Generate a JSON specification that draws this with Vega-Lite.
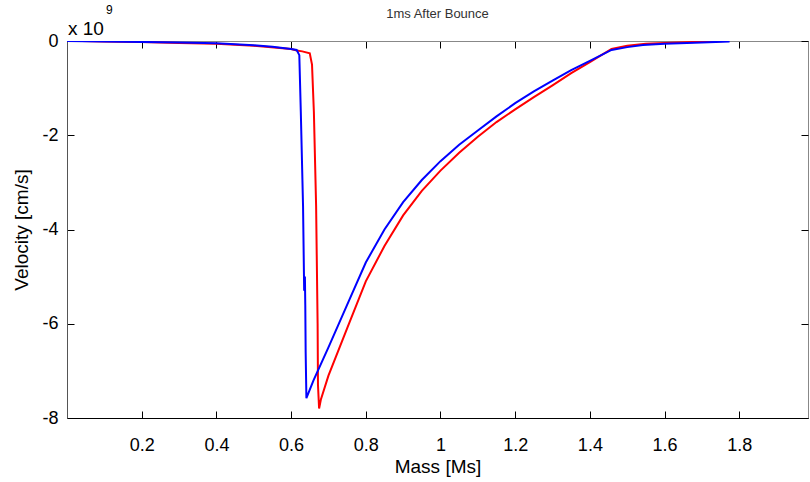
{
  "$schema": "https://vega.github.io/schema/vega-lite/v6.json",
  "autosize": {"type": "none"},
  "width": 741,
  "height": 377,
  "padding": {"left": 67, "top": 41, "right": 2, "bottom": 64},
  "background": "white",
  "title": {"text": "1ms After Bounce", "font": "Liberation Sans", "fontSize": 13, "fontWeight": "normal", "color": "#333", "offset": 0, "dy": 17},
  "config": {
    "view": {"stroke": "#888", "strokeWidth": 1},
    "axis": {"labelFont": "Liberation Sans", "titleFont": "Liberation Sans", "labelFontSize": 18, "titleFontSize": 19, "titleFontWeight": "normal", "labelColor": "black", "titleColor": "black", "tickColor": "black", "grid": false, "tickSize": -7, "labelPadding": 16}
  },
  "datasets": {
    "curves": [
      {"m": 0.04, "v": 0.0, "s": "red"},
      {"m": 0.1, "v": -0.01, "s": "red"},
      {"m": 0.2, "v": -0.02, "s": "red"},
      {"m": 0.3, "v": -0.04, "s": "red"},
      {"m": 0.4, "v": -0.06, "s": "red"},
      {"m": 0.5, "v": -0.1, "s": "red"},
      {"m": 0.6, "v": -0.17, "s": "red"},
      {"m": 0.615, "v": -0.2, "s": "red"},
      {"m": 0.63, "v": -0.22, "s": "red"},
      {"m": 0.65, "v": -0.26, "s": "red"},
      {"m": 0.656, "v": -0.5, "s": "red"},
      {"m": 0.661, "v": -1.5, "s": "red"},
      {"m": 0.667, "v": -3.5, "s": "red"},
      {"m": 0.671, "v": -6.0, "s": "red"},
      {"m": 0.672, "v": -7.3, "s": "red"},
      {"m": 0.675, "v": -7.8, "s": "red"},
      {"m": 0.68, "v": -7.6, "s": "red"},
      {"m": 0.7, "v": -7.1, "s": "red"},
      {"m": 0.75, "v": -6.1, "s": "red"},
      {"m": 0.8, "v": -5.1, "s": "red"},
      {"m": 0.85, "v": -4.35, "s": "red"},
      {"m": 0.9, "v": -3.7, "s": "red"},
      {"m": 0.95, "v": -3.18, "s": "red"},
      {"m": 1.0, "v": -2.75, "s": "red"},
      {"m": 1.05, "v": -2.37, "s": "red"},
      {"m": 1.1, "v": -2.03, "s": "red"},
      {"m": 1.15, "v": -1.72, "s": "red"},
      {"m": 1.2, "v": -1.45, "s": "red"},
      {"m": 1.25, "v": -1.19, "s": "red"},
      {"m": 1.3, "v": -0.94, "s": "red"},
      {"m": 1.35, "v": -0.68, "s": "red"},
      {"m": 1.4, "v": -0.45, "s": "red"},
      {"m": 1.458, "v": -0.17, "s": "red"},
      {"m": 1.5, "v": -0.1, "s": "red"},
      {"m": 1.55, "v": -0.06, "s": "red"},
      {"m": 1.6, "v": -0.04, "s": "red"},
      {"m": 1.7, "v": -0.015, "s": "red"},
      {"m": 1.76, "v": 0.0, "s": "red"},
      {"m": 0.0, "v": 0.0, "s": "blue"},
      {"m": 0.1, "v": -0.01, "s": "blue"},
      {"m": 0.2, "v": -0.02, "s": "blue"},
      {"m": 0.3, "v": -0.03, "s": "blue"},
      {"m": 0.4, "v": -0.05, "s": "blue"},
      {"m": 0.5, "v": -0.09, "s": "blue"},
      {"m": 0.55, "v": -0.12, "s": "blue"},
      {"m": 0.6, "v": -0.17, "s": "blue"},
      {"m": 0.615, "v": -0.19, "s": "blue"},
      {"m": 0.622, "v": -0.3, "s": "blue"},
      {"m": 0.626, "v": -1.5, "s": "blue"},
      {"m": 0.632, "v": -3.5, "s": "blue"},
      {"m": 0.635, "v": -5.3, "s": "blue"},
      {"m": 0.637, "v": -5.0, "s": "blue"},
      {"m": 0.638, "v": -5.6, "s": "blue"},
      {"m": 0.639, "v": -6.6, "s": "blue"},
      {"m": 0.641, "v": -7.58, "s": "blue"},
      {"m": 0.66, "v": -7.2, "s": "blue"},
      {"m": 0.7, "v": -6.5, "s": "blue"},
      {"m": 0.75, "v": -5.6, "s": "blue"},
      {"m": 0.8, "v": -4.7, "s": "blue"},
      {"m": 0.85, "v": -4.0, "s": "blue"},
      {"m": 0.9, "v": -3.42, "s": "blue"},
      {"m": 0.95, "v": -2.95, "s": "blue"},
      {"m": 1.0, "v": -2.55, "s": "blue"},
      {"m": 1.05, "v": -2.2, "s": "blue"},
      {"m": 1.1, "v": -1.9, "s": "blue"},
      {"m": 1.15, "v": -1.6, "s": "blue"},
      {"m": 1.2, "v": -1.32, "s": "blue"},
      {"m": 1.25, "v": -1.07, "s": "blue"},
      {"m": 1.3, "v": -0.84, "s": "blue"},
      {"m": 1.35, "v": -0.62, "s": "blue"},
      {"m": 1.4, "v": -0.42, "s": "blue"},
      {"m": 1.458, "v": -0.19, "s": "blue"},
      {"m": 1.5, "v": -0.13, "s": "blue"},
      {"m": 1.542, "v": -0.085, "s": "blue"},
      {"m": 1.6, "v": -0.06, "s": "blue"},
      {"m": 1.7, "v": -0.03, "s": "blue"},
      {"m": 1.774, "v": -0.01, "s": "blue"}
    ],
    "exp": [{"m": 0, "v": 0, "base": "x 10", "sup": "9"}]
  },
  "layer": [
    {
      "data": {"name": "curves"},
      "mark": {"type": "line", "strokeWidth": 2, "clip": true},
      "encoding": {
        "x": {"field": "m", "type": "quantitative", "scale": {"domain": [0, 1.984], "nice": false, "zero": false},
              "axis": {"orient": "bottom", "values": [0.2, 0.4, 0.6, 0.8, 1, 1.2, 1.4, 1.6, 1.8], "format": "~g", "title": "Mass [Ms]", "titlePadding": 3, "labelPadding": 25, "domainColor": "black"}},
        "y": {"field": "v", "type": "quantitative", "scale": {"domain": [-8, 0], "nice": false, "zero": false},
              "axis": {"orient": "left", "values": [-8, -6, -4, -2, 0], "labelExpr": "datum.value == 0 ? '0' : '-' + format(-datum.value, 'd')", "title": "Velocity [cm/s]", "titlePadding": 10, "domainColor": "#555"}},
        "color": {"field": "s", "type": "nominal", "scale": {"domain": ["red", "blue"], "range": ["#ff0000", "#0000ff"]}, "legend": null},
        "order": {"field": "m", "type": "quantitative"}
      }
    },
    {
      "data": {"name": "curves"},
      "mark": {"type": "point", "opacity": 0},
      "encoding": {
        "x": {"field": "m", "type": "quantitative", "scale": {"domain": [0, 1.984], "nice": false, "zero": false},
              "axis": {"orient": "top", "values": [0.2, 0.4, 0.6, 0.8, 1, 1.2, 1.4, 1.6, 1.8], "labels": false, "title": null, "domainColor": "#888"}},
        "y": {"field": "v", "type": "quantitative", "scale": {"domain": [-8, 0], "nice": false, "zero": false},
              "axis": {"orient": "right", "values": [-8, -6, -4, -2, 0], "labels": false, "title": null, "domain": false}}
      }
    },
    {
      "data": {"name": "exp"},
      "mark": {"type": "text", "font": "Liberation Sans", "fontSize": 19, "align": "left", "baseline": "alphabetic", "dx": 1, "dy": -6, "color": "black"},
      "encoding": {
        "x": {"field": "m", "type": "quantitative", "axis": null},
        "y": {"field": "v", "type": "quantitative", "axis": null},
        "text": {"field": "base"}
      }
    },
    {
      "data": {"name": "exp"},
      "mark": {"type": "text", "font": "Liberation Sans", "fontSize": 12, "align": "left", "baseline": "alphabetic", "dx": 39, "dy": -27, "color": "black"},
      "encoding": {
        "x": {"field": "m", "type": "quantitative", "axis": null},
        "y": {"field": "v", "type": "quantitative", "axis": null},
        "text": {"field": "sup"}
      }
    }
  ],
  "resolve": {"axis": {"x": "independent", "y": "independent"}}
}
